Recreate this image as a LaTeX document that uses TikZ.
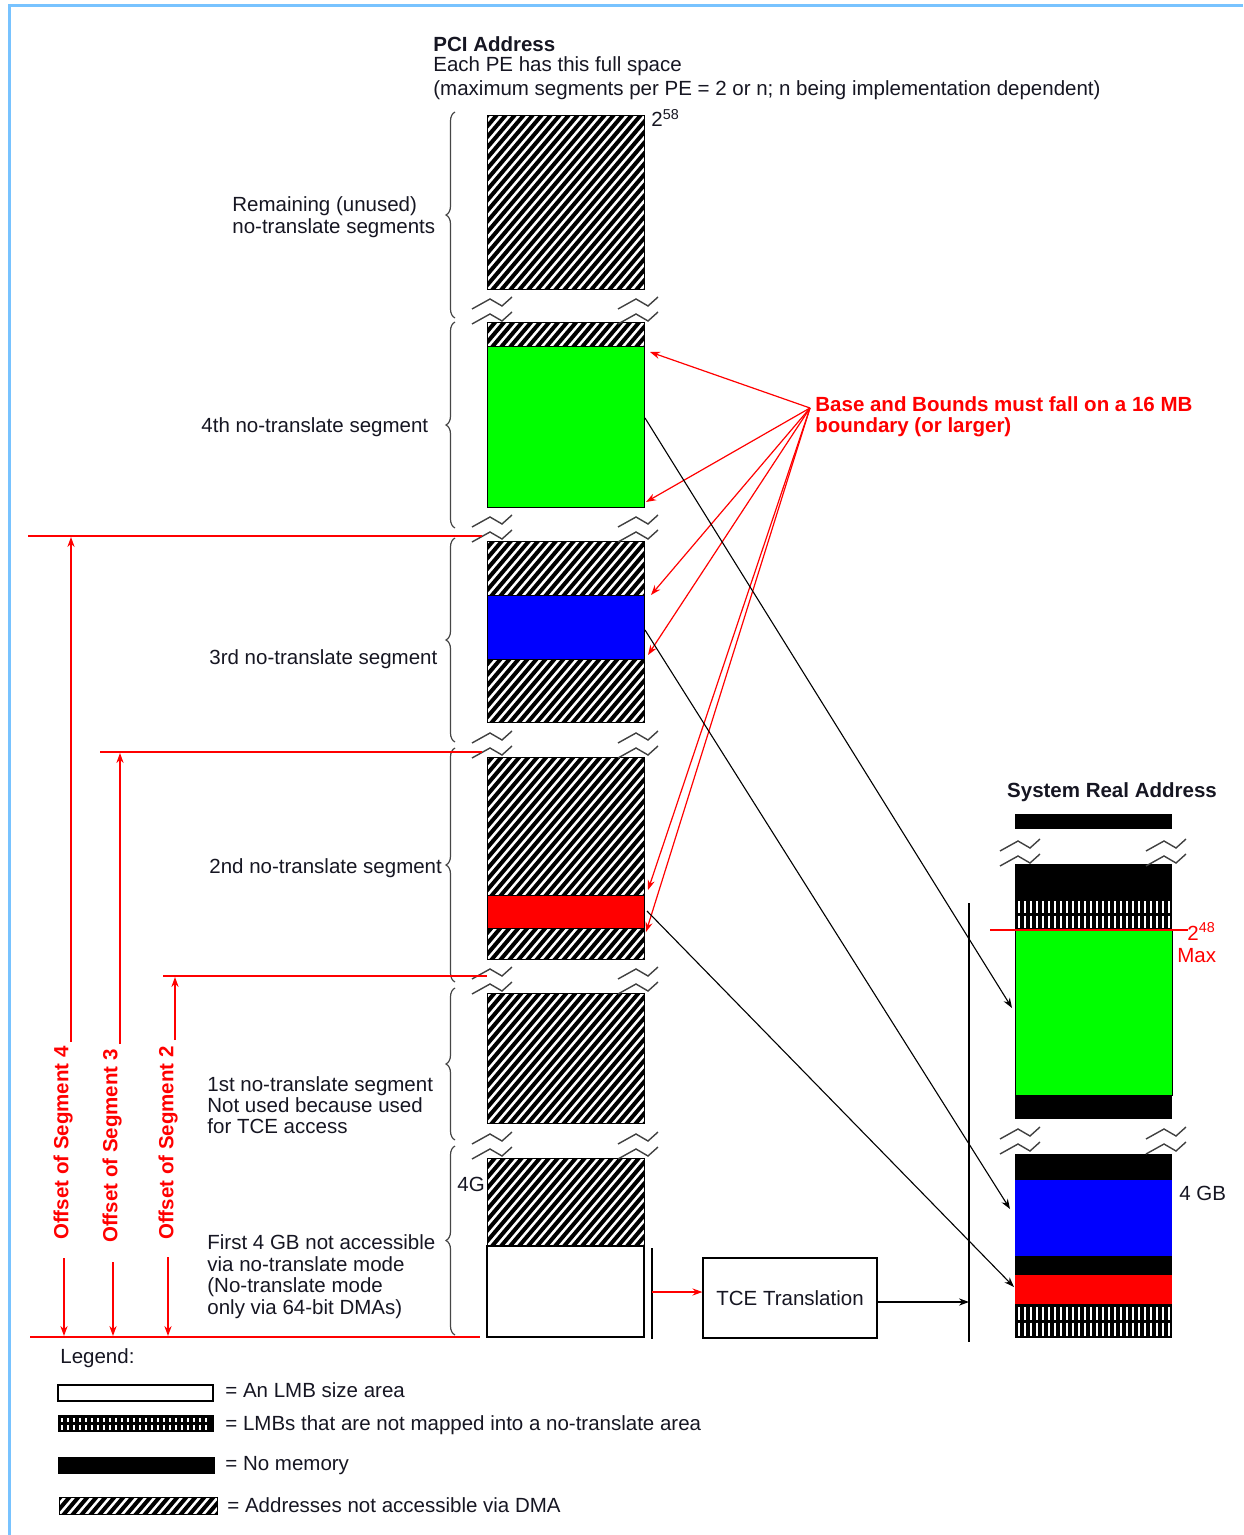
\documentclass[tikz,border=0pt]{standalone}
\usepackage{fontspec}
\setmainfont{Liberation Sans}
\usetikzlibrary{arrows.meta,decorations.pathreplacing}

\definecolor{ink}{RGB}{22,22,34}
\definecolor{frameblue}{RGB}{120,195,255}
\definecolor{segred}{RGB}{255,0,0}
\definecolor{seggreen}{RGB}{0,255,0}
\definecolor{segblue}{RGB}{0,0,255}
\definecolor{bracegray}{RGB}{70,70,70}

% diagonal hatching: addresses not accessible via DMA
\newcommand\hatchrect[4]{%
  \begin{scope}
    \clip (#1,#2) rectangle (#3,#4);
    \fill[white] (#1,#2) rectangle (#3,#4);
    \pgfmathtruncatemacro\hatchA{#1-162}%
    \pgfmathtruncatemacro\hatchB{#1-153}%
    \foreach \k in {\hatchA,\hatchB,...,#3}{%
      \draw[black,line width=2pt] (\k,#4+6) -- ++(170,-200);}%
  \end{scope}%
  \draw[black,line width=0.5pt] (#1,#2) rectangle (#3,#4);}

% vertical bars: LMBs not mapped into a no-translate area
\newcommand\striperect[4]{%
  \fill[black] (#1,#2) rectangle (#3,#4);
  \pgfmathsetmacro\stripeM{(#2+#4)/2}%
  \pgfmathtruncatemacro\stripeA{#1+4}%
  \pgfmathtruncatemacro\stripeB{#1+10}%
  \pgfmathtruncatemacro\stripeC{#3-3}%
  \foreach \k in {\stripeA,\stripeB,...,\stripeC}{%
    \draw[white,line width=1.1pt] (\k,#2+3) -- (\k,\stripeM-1.5) (\k,\stripeM+1.5) -- (\k,#4-2);}}

% address-space break marks
\newcommand\zz[2]{\draw[brkline] (#1,#2) -- ++(18,-10) -- ++(12,7) -- ++(10,-9);}
\newcommand\brk[3]{\zz{#1-15}{#3-15}\zz{#1-15}{#3}\zz{#2-26}{#3-15}\zz{#2-26}{#3}}

\begin{document}
\begin{tikzpicture}[x=0.5pt,y=-0.5pt,
  txt/.style={text=ink,font=\fontsize{10.25pt}{12pt}\selectfont,inner sep=0pt},
  btxt/.style={txt,font=\bfseries\fontsize{10.25pt}{12pt}\selectfont},
  rtxt/.style={btxt,text=segred},
  redarr/.style={draw=segred,line width=0.6pt,-{Stealth[length=5pt,width=3.6pt]}},
  blkarr/.style={draw=black,line width=0.55pt,-{Stealth[length=5pt,width=3.6pt]}},
  redline/.style={draw=segred,line width=0.65pt},
  brkline/.style={draw=black!75,line width=0.7pt},
  bracepath/.style={draw=bracegray,line width=0.6pt,decorate,decoration={brace,amplitude=4.5pt}},
  rule/.style={draw=black,line width=0.65pt}]

\useasboundingbox (0,0) rectangle (1243,1535);
\draw[frameblue,line width=1.5pt] (9,1535) -- (9,5.5) -- (1243,5.5);

% ---------- titles ----------
\node[btxt,anchor=base west] (pcititle) at (433,52) {PCI Address};
\node[txt,anchor=base west] (pcisub1) at (433,72) {Each PE has this full space};
\node[txt,anchor=base west] (pcisub2) at (433,96) {(maximum segments per PE = 2 or n; n being implementation dependent)};
\node[btxt,anchor=base] (srtitle) at (1112,797) {System Real Address};

% ---------- PCI address column ----------
\hatchrect{487}{116}{644}{290}
\hatchrect{487}{323}{644}{347}
\filldraw[fill=seggreen,draw=black,line width=0.5pt] (487,347) rectangle (644,507);
\hatchrect{487}{541}{644}{595}
\filldraw[fill=segblue,draw=black,line width=0.5pt] (487,595) rectangle (644,659);
\hatchrect{487}{659}{644}{722}
\hatchrect{487}{757}{644}{895}
\filldraw[fill=segred,draw=black,line width=0.5pt] (487,895) rectangle (644,928);
\hatchrect{487}{928}{644}{959}
\hatchrect{487}{993}{644}{1123}
\hatchrect{487}{1158}{644}{1246}
\draw[black,line width=0.6pt] (487,1246) rectangle (644,1337);

\brk{487}{644}{324}
\brk{487}{644}{542}
\brk{487}{644}{758}
\brk{487}{644}{994}
\brk{487}{644}{1159}

\node[txt,anchor=base west] (top58) at (651,127) {2\textsuperscript{58}};
\node[txt,anchor=base west] (four) at (457,1191) {4G};

% ---------- braces and segment labels ----------
\draw[bracepath] (455,318) -- (455,112);
\draw[bracepath] (455,528) -- (455,322);
\draw[bracepath] (455,742) -- (455,538);
\draw[bracepath] (455,982) -- (455,748);
\draw[bracepath] (455,1140) -- (455,988);
\draw[bracepath] (455,1335) -- (455,1146);

\node[txt,anchor=base west] (remA) at (232,212) {Remaining (unused)};
\node[txt,anchor=base west] (remB) at (232,234) {no-translate segments};
\node[txt,anchor=base west] (seg4) at (201,432) {4th no-translate segment};
\node[txt,anchor=base west] (seg3) at (209,664) {3rd no-translate segment};
\node[txt,anchor=base west] (seg2) at (209,873) {2nd no-translate segment};
\node[txt,anchor=base west] (seg1A) at (207,1091) {1st no-translate segment};
\node[txt,anchor=base west] (seg1B) at (207,1112) {Not used because used};
\node[txt,anchor=base west] (seg1C) at (207,1133) {for TCE access};
\node[txt,anchor=base west] (lowA) at (207,1249) {First 4 GB not accessible};
\node[txt,anchor=base west] (lowB) at (207,1271) {via no-translate mode};
\node[txt,anchor=base west] (lowC) at (207,1292) {(No-translate mode};
\node[txt,anchor=base west] (lowD) at (207,1314) {only via 64-bit DMAs)};

% ---------- segment offsets ----------
\draw[redline] (28,536) -- (482,536);
\draw[redline] (100,752) -- (482,752);
\draw[redline] (163,976) -- (487,976);
\draw[redline] (30,1337) -- (480,1337);

\node[rtxt,rotate=90] (off4) at (63,1143) {Offset of Segment 4};
\node[rtxt,rotate=90] (off3) at (112,1146) {Offset of Segment 3};
\node[rtxt,rotate=90] (off2) at (168,1143) {Offset of Segment 2};

\coordinate (o4top) at (71,537);  \coordinate (o4up) at (71,1042);
\coordinate (o4low) at (64,1258); \coordinate (o4bot) at (64,1336);
\coordinate (o3top) at (120,753); \coordinate (o3up) at (120,1044);
\coordinate (o3low) at (113,1262);\coordinate (o3bot) at (113,1336);
\coordinate (o2top) at (175,977); \coordinate (o2up) at (175,1040);
\coordinate (o2low) at (168,1257);\coordinate (o2bot) at (168,1336);
\draw[redarr] (o4up) -- (o4top);  \draw[redarr] (o4low) -- (o4bot);
\draw[redarr] (o3up) -- (o3top);  \draw[redarr] (o3low) -- (o3bot);
\draw[redarr] (o2up) -- (o2top);  \draw[redarr] (o2low) -- (o2bot);

% ---------- base and bounds note ----------
\node[rtxt,anchor=base west] (bbA) at (815,411) {Base and Bounds must fall on a 16 MB};
\node[rtxt,anchor=base west] (bbB) at (815,432) {boundary (or larger)};
\coordinate (bbsrc) at (810,408);
\coordinate (g4top) at (650,352);
\coordinate (g4bot) at (646,502);
\coordinate (b3top) at (651,595);
\coordinate (b3bot) at (648,655);
\coordinate (r2top) at (648,890);
\coordinate (r2bot) at (646,932);
\foreach \t in {g4top,g4bot,b3top,b3bot,r2top,r2bot}{\draw[redarr] (bbsrc) -- (\t);}

% ---------- system real address column ----------
\fill[black] (1015,814) rectangle (1172,829);
\fill[black] (1015,864) rectangle (1172,898);
\striperect{1015}{898}{1172}{930}
\filldraw[fill=seggreen,draw=black,line width=0.5pt] (1015,930) rectangle (1172,1095);
\fill[black] (1015,1095) rectangle (1172,1119);
\fill[black] (1015,1154) rectangle (1172,1180);
\fill[segblue] (1015,1180) rectangle (1172,1256);
\fill[black] (1015,1256) rectangle (1172,1275);
\fill[segred] (1015,1275) rectangle (1172,1304);
\striperect{1015}{1304}{1172}{1338}
\brk{1015}{1172}{866}
\brk{1015}{1172}{1154}

\draw[redline] (990,930) -- (1188,930);
\node[txt,text=segred,anchor=base west] (max48) at (1187,940) {2\textsuperscript{48}};
\node[txt,text=segred,anchor=base west] (maxlbl) at (1177,962) {Max};
\node[txt,anchor=base west] (gb4) at (1179,1200) {4 GB};

% ---------- mapping connectors ----------
\coordinate (pg) at (645,418);  \coordinate (sg) at (1012,1008);
\coordinate (pb) at (645,630);  \coordinate (sb) at (1010,1209);
\coordinate (pr) at (647,911);  \coordinate (sr) at (1014,1287);
\draw[blkarr] (pg) -- (sg);
\draw[blkarr] (pb) -- (sb);
\draw[blkarr] (pr) -- (sr);

% ---------- TCE translation path ----------
\coordinate (tceInTop) at (652,1248); \coordinate (tceInBot) at (652,1339);
\coordinate (tceIn) at (652,1292);
\coordinate (sysBusTop) at (969,903); \coordinate (sysBusBot) at (969,1342);
\coordinate (sysBus) at (969,1302);
\draw[rule] (tceInTop) -- (tceInBot);
\draw[rule] (sysBusTop) -- (sysBusBot);
\node[txt,draw=black,line width=0.6pt,minimum width=87pt,minimum height=40pt] (tce) at (790,1298) {TCE Translation};
\draw[redarr] (tceIn) -- (tce.west |- tceIn);
\draw[blkarr] (tce.east |- sysBus) -- (sysBus);

% ---------- legend ----------
\node[txt,anchor=base west] (leg) at (60,1363) {Legend:};
\draw[black,line width=0.6pt] (58,1385) rectangle (213,1401);
\striperect{58}{1415}{214}{1432}
\fill[black] (58,1457) rectangle (215,1474);
\hatchrect{59}{1497}{217}{1514}
\node[txt,anchor=base west] (legA) at (225,1397) {= An LMB size area};
\node[txt,anchor=base west] (legB) at (225,1430) {= LMBs that are not mapped into a no-translate area};
\node[txt,anchor=base west] (legC) at (225,1470) {= No memory};
\node[txt,anchor=base west] (legD) at (227,1512) {= Addresses not accessible via DMA};

\end{tikzpicture}
\end{document}
